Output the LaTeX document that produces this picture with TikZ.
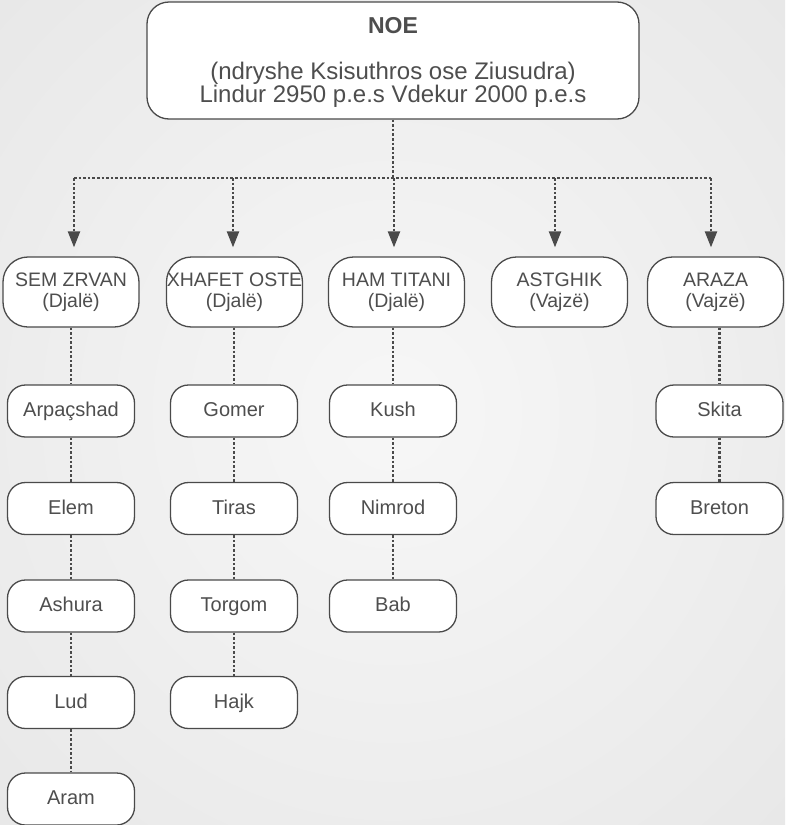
\documentclass[tikz,border=0pt]{standalone}
\usepackage{fontspec}
\setmainfont{Liberation Sans}
\usetikzlibrary{arrows.meta}
\definecolor{bgin}{HTML}{F7F7F7}
\definecolor{bgmid}{HTML}{E6E6E6}
\definecolor{bgout}{HTML}{D2D2D2}
\definecolor{ink}{HTML}{4E4E4E}
\definecolor{edge}{HTML}{4A4A4A}
\pgfdeclareradialshading{bgshade}{\pgfpoint{0bp}{0bp}}{color(0bp)=(bgin); color(40bp)=(bgmid); color(72bp)=(bgout)}
\tikzset{
  box/.style={draw=edge, line width=1.3pt, fill=white, text=ink, inner sep=0pt},
  topbox/.style={box, rounded corners=22pt, minimum width=492pt, minimum height=117pt},
  lvlbox/.style={box, rounded corners=25pt, minimum width=136pt, minimum height=70pt,
     align=center, font=\fontsize{19.5}{21}\selectfont},
  kidbox/.style={box, rounded corners=18pt, minimum width=127pt, minimum height=52pt,
     text height=14.5pt, text depth=3.5pt, font=\fontsize{20}{22}\selectfont},
  toptext/.style={anchor=base, text=ink, inner sep=0pt, font=\fontsize{24}{26}\selectfont},
  dotline/.style={draw=edge, line width=2.3pt, dash pattern=on 2.6pt off 2pt},
  arr/.style={dotline, -{Triangle[length=16pt, width=12pt]}, shorten >=9pt},
}
\begin{document}
\begin{tikzpicture}[x=1pt, y=-1pt]
\shade[shading=bgshade] (0,0) rectangle (785,825);
\useasboundingbox (0,0) rectangle (785,825);

% top
\node[topbox] (top) at (393,60.5) {};
\node[toptext, font=\fontsize{23}{25}\selectfont\bfseries] (t1) at (393,33) {NOE};
\node[toptext] (t2) at (393,79) {(ndryshe Ksisuthros ose Ziusudra)};
\node[toptext] (t3) at (393,102) {Lindur 2950 p.e.s Vdekur 2000 p.e.s};

% bus
\coordinate (hc) at (393,178);
\coordinate (h1) at (74,178);
\coordinate (h2) at (233,178);
\coordinate (h3) at (394,178);
\coordinate (h4) at (555,178);
\coordinate (h5) at (711,178);
\draw[dotline] (top.south) -- (hc);
\draw[dotline] (h1) -- (h5);

% level 1
\node[lvlbox] (l1) at (71,292) {SEM ZRVAN\\(Djalë)};
\node[lvlbox] (l2) at (234.5,292) {XHAFET OSTE\\(Djalë)};
\node[lvlbox] (l3) at (396.5,292) {HAM TITANI\\(Djalë)};
\node[lvlbox] (l4) at (559.5,292) {ASTGHIK\\(Vajzë)};
\node[lvlbox] (l5) at (715.5,292) {ARAZA\\(Vajzë)};

\draw[arr] (h1) -- (h1 |- l1.north);
\draw[arr] (h2) -- (h2 |- l2.north);
\draw[arr] (h3) -- (h3 |- l3.north);
\draw[arr] (h4) -- (h4 |- l4.north);
\draw[arr] (h5) -- (h5 |- l5.north);

% column 1
\node[kidbox] (a1) at (71,411) {Arpaçshad};
\node[kidbox] (a2) at (71,508.5) {Elem};
\node[kidbox] (a3) at (71,606) {Ashura};
\node[kidbox] (a4) at (71,702.5) {Lud};
\node[kidbox] (a5) at (71,799) {Aram};
% column 2
\node[kidbox] (b1) at (234,411) {Gomer};
\node[kidbox] (b2) at (234,508.5) {Tiras};
\node[kidbox] (b3) at (234,606) {Torgom};
\node[kidbox] (b4) at (234,702.5) {Hajk};
% column 3
\node[kidbox] (c1) at (393,411) {Kush};
\node[kidbox] (c2) at (393,508.5) {Nimrod};
\node[kidbox] (c3) at (393,606) {Bab};
% column 5
\node[kidbox] (e1) at (719.5,411) {Skita};
\node[kidbox] (e2) at (719.5,508.5) {Breton};

\draw[dotline] (a1.north |- l1.south) -- (a1.north);
\draw[dotline] (a1) -- (a2) (a2) -- (a3) (a3) -- (a4) (a4) -- (a5);
\draw[dotline] (b1.north |- l2.south) -- (b1.north);
\draw[dotline] (b1) -- (b2) (b2) -- (b3) (b3) -- (b4);
\draw[dotline] (c1.north |- l3.south) -- (c1.north);
\draw[dotline] (c1) -- (c2) (c2) -- (c3);
\draw[dotline] (e1.north |- l5.south) -- (e1.north);
\draw[dotline] (e1) -- (e2);
\end{tikzpicture}
\end{document}
